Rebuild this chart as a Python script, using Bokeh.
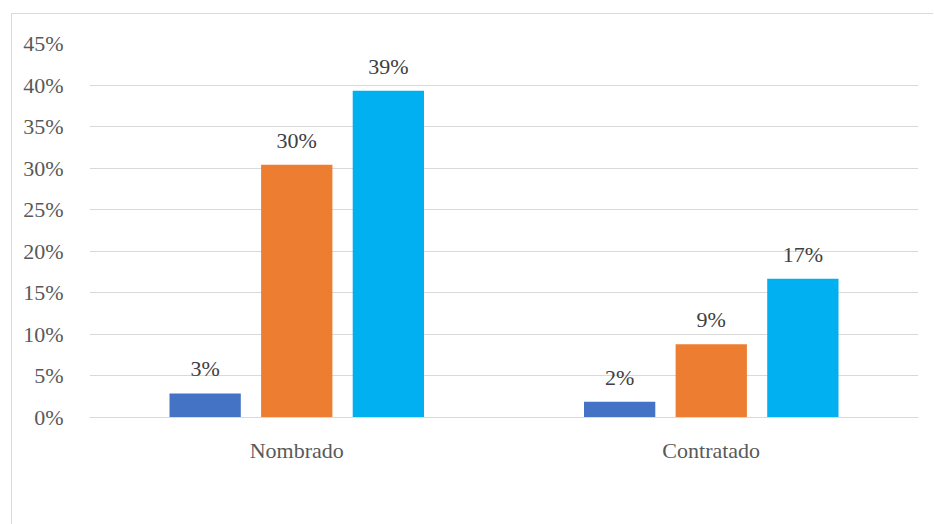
from bokeh.plotting import figure
from bokeh.models import ColumnDataSource, FactorRange, Legend, LegendItem, NumeralTickFormatter, LabelSet
from bokeh.transform import dodge
from bokeh.core.properties import value
from bokeh.embed import file_html
from bokeh.resources import INLINE

categories = ["Nombrado", "Contratado"]
series = ["Inicial", "Primaria", "Secundaria"]
inicial = [0.029, 0.019]
primaria = [0.304, 0.088]
secundaria = [0.393, 0.167]
colors = ["#4472C4", "#ED7D31", "#00B0F0"]
y_ticks = [0, 0.05, 0.10, 0.15, 0.20, 0.25, 0.30, 0.35, 0.40, 0.45]

FONT = "Liberation Serif"
FS = "22px"

src = ColumnDataSource(dict(
    cat=categories, Inicial=inicial, Primaria=primaria, Secundaria=secundaria,
    l_Inicial=[f"{round(v*100):.0f}%" for v in inicial],
    l_Primaria=[f"{round(v*100):.0f}%" for v in primaria],
    l_Secundaria=[f"{round(v*100):.0f}%" for v in secundaria],
))

p = figure(x_range=FactorRange(factors=categories, range_padding=0), y_range=(0, 0.45),
           width=923, height=510,
           frame_width=829, frame_height=374, output_backend="svg", toolbar_location=None,
           min_border_left=77, min_border_right=15, min_border_top=29, min_border_bottom=0)
p.margin = (13, 0, 0, 11)
p.styles = {"border-top": "1px solid #d9d9d9", "border-left": "1px solid #d9d9d9"}
p.outline_line_color = None

offsets = [-0.221, 0.0, 0.221]
items = []
for s, c, off in zip(series, colors, offsets):
    r = p.vbar(x=dodge("cat", off, range=p.x_range), top=s, width=0.172, source=src,
               fill_color=c, line_color=None)
    items.append(LegendItem(label=s, renderers=[r]))
    lab = LabelSet(x=dodge("cat", off, range=p.x_range), y=s, text="l_" + s, source=src,
                   text_align="center", text_baseline="alphabetic", y_offset=17,
                   text_font=value(FONT), text_font_size=FS, text_color="#404040")
    p.add_layout(lab)

p.yaxis.ticker = y_ticks
p.yaxis.formatter = NumeralTickFormatter(format="0%")
p.yaxis.axis_line_color = None
p.yaxis.major_tick_line_color = None
p.yaxis.minor_tick_line_color = None
p.yaxis.major_label_standoff = 20
p.xaxis.axis_line_color = "#d9d9d9"
p.xaxis.axis_line_width = 1
p.xaxis.major_tick_line_color = None
p.xaxis.minor_tick_line_color = None
p.xaxis.major_label_standoff = 14
for ax in (p.xaxis, p.yaxis):
    ax.major_label_text_font = FONT
    ax.major_label_text_font_size = FS
    ax.major_label_text_color = "#595959"
p.xgrid.grid_line_color = None
p.ygrid.grid_line_color = "#d9d9d9"
p.ygrid.ticker = y_ticks

legend = Legend(items=items, orientation="horizontal", location=(223, 13),
                label_text_font=FONT, label_text_font_size=FS, label_text_color="#595959",
                glyph_width=12, glyph_height=12, spacing=24, label_standoff=5,
                border_line_color=None, background_fill_alpha=0, margin=10, padding=4)
p.add_layout(legend, "below")

open("out.html", "w").write(file_html(p, INLINE))
